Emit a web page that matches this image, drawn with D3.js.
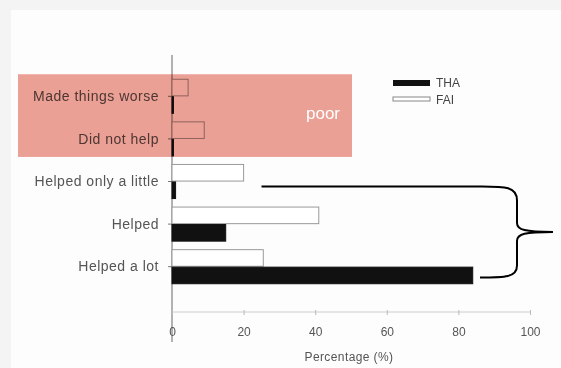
<!DOCTYPE html>
<html lang="en">
<head>
<meta charset="utf-8">
<title>THA vs FAI</title>
<style>
  body { margin: 0; background: #f4f4f4; }
  svg { display: block; font-family: "Liberation Sans", Arial, sans-serif; }
</style>
</head>
<body>
<script src="https://d3js.org/d3.v7.min.js"></script>
<script>
// data
const categories = ["Made things worse", "Did not help", "Helped only a little", "Helped", "Helped a lot"];
const series = ["FAI", "THA"];
const faiValues = [4.5, 9, 20, 41, 25.5];
const thaValues = [0.4, 0.4, 1, 15, 84];
const xTicks = [0, 20, 40, 60, 80, 100];

const width = 561, height = 368;

const svg = d3.select("body").append("svg")
    .attr("width", width)
    .attr("height", height);

// slide-ish background
svg.append("rect").attr("x", 11).attr("y", 10).attr("width", width - 11).attr("height", height - 10)
    .attr("fill", "#fdfdfd");

const x = d3.scaleLinear().domain([0, 100]).range([172, 530]);
const y = d3.scaleBand().domain(categories).range([75, 288]).paddingInner(0.2).paddingOuter(0.1);
const sub = d3.scaleBand().domain(series).range([0, y.bandwidth()]).paddingInner(0.05);

const rows = categories.map((c, i) => ({ cat: c, FAI: faiValues[i], THA: thaValues[i] }));

// y axis line
svg.append("line")
    .attr("x1", x(0)).attr("x2", x(0))
    .attr("y1", 55).attr("y2", 342)
    .attr("stroke", "#666").attr("stroke-width", 1);

// x axis
const xAxis = svg.append("g")
    .attr("transform", "translate(0,312)")
    .call(d3.axisBottom(x).tickValues(xTicks).tickSize(3).tickPadding(12));
xAxis.select(".domain").attr("stroke", "#ccc").attr("d", `M${x(0)},0H${x(100)}`);
xAxis.selectAll(".tick line").attr("stroke", "#bbb").attr("y1", -2);
xAxis.selectAll(".tick text").attr("fill", "#555").attr("font-size", 12)
    .attr("font-family", "Liberation Sans, Arial, sans-serif");

svg.append("text")
    .attr("x", x(50) - 2).attr("y", 361)
    .attr("text-anchor", "middle")
    .attr("fill", "#555").attr("font-size", 12)
    .attr("letter-spacing", 0.4)
    .text("Percentage (%)");

// category labels + small ticks
const labels = svg.append("g");
labels.selectAll("text")
    .data(categories)
    .join("text")
    .attr("x", 159)
    .attr("y", d => y(d) + y.bandwidth() / 2 + 1)
    .attr("text-anchor", "end")
    .attr("dominant-baseline", "middle")
    .attr("fill", "#555")
    .attr("font-size", 14)
    .attr("letter-spacing", 0.5)
    .text(d => d);
labels.selectAll("line")
    .data(categories)
    .join("line")
    .attr("x1", x(0) - 4).attr("x2", x(0))
    .attr("y1", d => y(d) + y.bandwidth() / 2)
    .attr("y2", d => y(d) + y.bandwidth() / 2)
    .attr("stroke", "#777");

// bars
const groups = svg.selectAll("g.row")
    .data(rows)
    .join("g")
    .attr("class", "row")
    .attr("transform", d => `translate(0,${y(d.cat)})`);

groups.selectAll("rect")
    .data(d => series.map(s => ({ s, v: d[s] })))
    .join("rect")
    .attr("x", x(0))
    .attr("y", d => sub(d.s))
    .attr("width", d => x(d.v) - x(0))
    .attr("height", sub.bandwidth())
    .attr("fill", d => d.s === "THA" ? "#111" : "#fff")
    .attr("stroke", d => d.s === "THA" ? "#111" : "#999")
    .attr("stroke-width", 1);

// legend
const legend = svg.append("g").attr("transform", "translate(393,83)");
legend.append("rect").attr("x", 0).attr("y", -3).attr("width", 37).attr("height", 6).attr("fill", "#111");
legend.append("rect").attr("x", 0).attr("y", 14).attr("width", 37).attr("height", 4)
    .attr("fill", "#fff").attr("stroke", "#888");
legend.selectAll("text")
    .data(["THA", "FAI"])
    .join("text")
    .attr("x", 43)
    .attr("y", (d, i) => i * 17 + 1)
    .attr("dominant-baseline", "middle")
    .attr("fill", "#444")
    .attr("font-size", 12)
    .text(d => d);

// "poor" highlight box
const boxTop = y("Made things worse") - 5;
const boxBottom = y("Did not help") + y.bandwidth() + 1;
svg.append("rect")
    .attr("x", 18).attr("y", boxTop)
    .attr("width", 334).attr("height", boxBottom - boxTop)
    .attr("fill", "#eca196")
    .style("mix-blend-mode", "multiply");
svg.append("text")
    .attr("x", 323).attr("y", (boxTop + boxBottom) / 2 - 1)
    .attr("text-anchor", "middle")
    .attr("dominant-baseline", "middle")
    .attr("fill", "#fff")
    .attr("font-size", 17)
    .text("poor");

// bracket around the helpful categories
const braceTop = y("Helped only a little") + y.bandwidth() / 2 + 5;
const braceBottom = y("Helped a lot") + sub("THA") + sub.bandwidth() / 2 + 2;
const mid = (braceTop + braceBottom) / 2;
const bx = 517;
svg.append("path")
    .attr("d", `M${x(25)},${braceTop} H482 C505,${braceTop} ${bx},${braceTop} ${bx},${braceTop + 14}
        V${mid - 9} C${bx},${mid - 2} 525,${mid} 553,${mid}
        C525,${mid} ${bx},${mid + 2} ${bx},${mid + 9}
        V${braceBottom - 12} C${bx},${braceBottom} 505,${braceBottom} 480,${braceBottom}`)
    .attr("fill", "none")
    .attr("stroke", "#000")
    .attr("stroke-width", 2);
</script>
</body>
</html>
